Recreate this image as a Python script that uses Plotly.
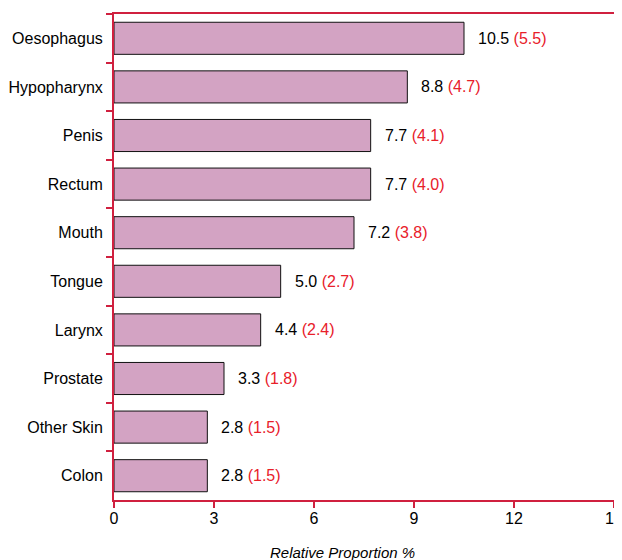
import plotly.graph_objects as go

categories = ["Oesophagus", "Hypopharynx", "Penis", "Rectum", "Mouth",
              "Tongue", "Larynx", "Prostate", "Other Skin", "Colon"]
values = [10.5, 8.8, 7.7, 7.7, 7.2, 5.0, 4.4, 3.3, 2.8, 2.8]
secondary = ["5.5", "4.7", "4.1", "4.0", "3.8", "2.7", "2.4", "1.8", "1.5", "1.5"]
x_ticks = [0, 3, 6, 9, 12, 15]

RED = "#D0203F"
FONT = "Liberation Sans, Arial, sans-serif"

fig = go.Figure(go.Bar(
    y=categories, x=values, orientation="h",
    marker=dict(color="#D3A3C3", line=dict(color="#111111", width=1)),
    width=0.66, hoverinfo="skip",
))

for c, v, s in zip(categories, values, secondary):
    fig.add_annotation(
        x=v, y=c, xref="x", yref="y", xanchor="left", yanchor="middle",
        xshift=12, showarrow=False,
        text=f"{v:.1f} <span style='color:#E8202A'>({s})</span>",
        font=dict(family=FONT, size=16, color="black"),
    )

fig.add_annotation(
    x=0.456, y=-0.107, xref="paper", yref="paper", showarrow=False,
    xanchor="center", yanchor="middle",
    text="<i>Relative Proportion %</i>",
    font=dict(family=FONT, size=15, color="black"),
)

fig.update_layout(
    width=622, height=560,
    margin=dict(l=106, r=16, t=6, b=68),
    plot_bgcolor="white", paper_bgcolor="white",
    showlegend=False,
    font=dict(family=FONT, size=16, color="black"),
    xaxis=dict(range=[0, 15], tickvals=x_ticks, ticks="outside", ticklen=6,
               tickcolor=RED, tickwidth=2, showline=True, linecolor=RED,
               linewidth=2, mirror=True, showgrid=False, zeroline=False,
               automargin=False, ticklabelstandoff=-3, ticklabeloverflow="allow",
               tickfont=dict(size=16, color="black")),
    yaxis=dict(autorange="reversed", categoryorder="array", categoryarray=categories,
               ticks="outside", tickson="boundaries", ticklen=6, tickcolor=RED,
               tickwidth=2, showline=True, linecolor=RED, linewidth=2, mirror=True,
               showgrid=False, ticklabelstandoff=6, automargin=False,
               tickfont=dict(size=16, color="black")),
)

fig.write_html("out.html")
